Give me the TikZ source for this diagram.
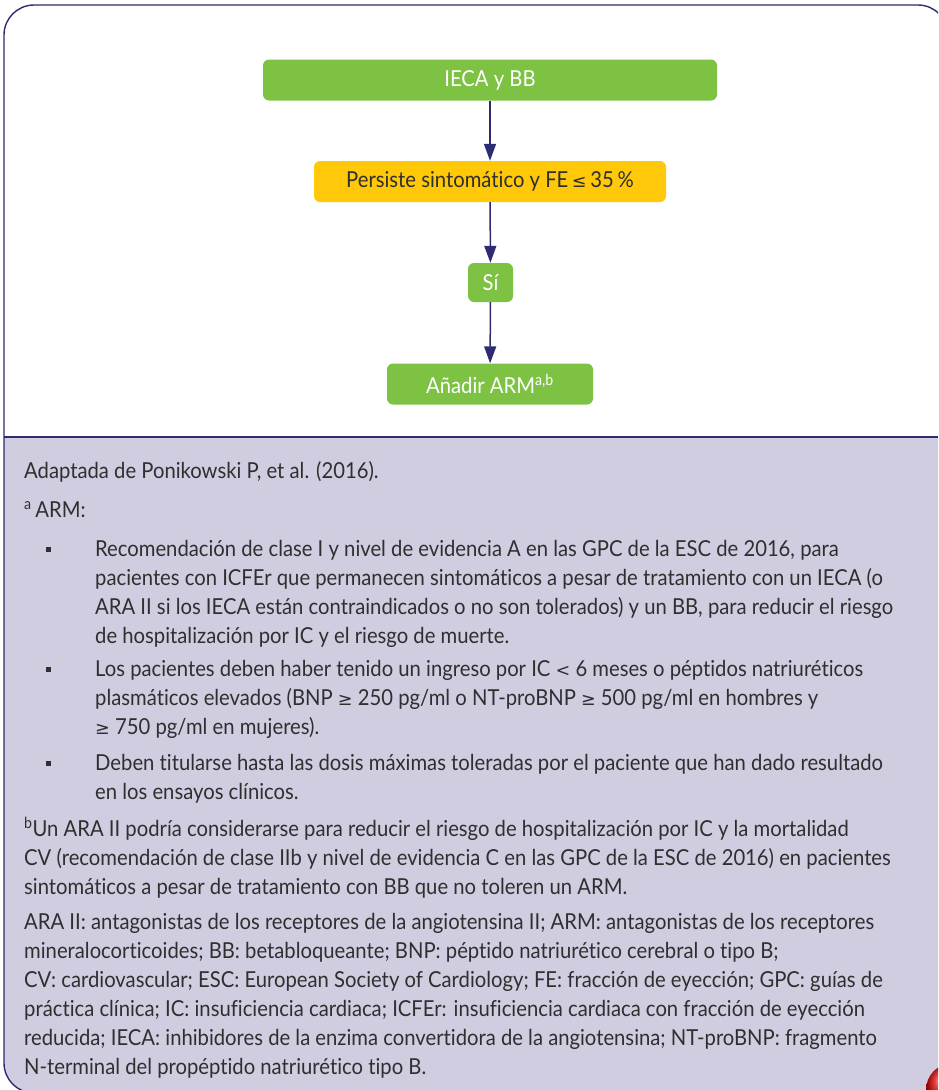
\documentclass[tikz,border=0pt]{standalone}
\usepackage{fontspec}
\setmainfont{Lato}[FakeStretch=0.92, Ligatures={NoCommon}]
\newfontfamily\symf{DejaVu Sans}[Scale=0.8]
\usetikzlibrary{arrows.meta}
\definecolor{navy}{HTML}{2E2C70}
\definecolor{leaf}{HTML}{7DC243}
\definecolor{sun}{HTML}{FFC90A}
\definecolor{lav}{HTML}{D0CDE1}
\definecolor{ink}{HTML}{2F2F2F}
\newcommand{\sle}{{\symf ≤}}
\newcommand{\sge}{{\symf ≥}}
\newcommand{\slt}{{\symf <}}
\begin{document}
\begin{tikzpicture}[x=1pt,y=-1pt,
  boxbase/.style={rounded corners=6pt, minimum height=41pt, inner sep=0pt,
    font=\fontsize{22}{26}\selectfont},
  gbox/.style={boxbase, fill=leaf, text=white},
  ybox/.style={boxbase, fill=sun, text=ink},
  flow/.style={navy, line width=1.5pt, -{Triangle[length=17pt,width=12pt]}},
  txt/.style={anchor=base west, inner sep=0pt, text=ink,
    font=\fontsize{22}{29}\selectfont},
  sq/.style={fill=ink, minimum size=5pt, inner sep=0pt}]
\useasboundingbox (0,0) rectangle (938,1090);
\clip (0,0) rectangle (938,1090);

% lower notes panel
\begin{scope}
  \clip[rounded corners=30pt] (4,5) rectangle (948,1093);
  \fill[lav] (0,437) rectangle (960,1100);
\end{scope}
\draw[navy, line width=1.4pt, rounded corners=30pt] (4,5) rectangle (948,1093);
\draw[navy, line width=1.2pt] (4,437) -- (938,437);

% page badge
\shade[ball color=red!85!black] (953,1090) circle (27);

% flow chart
\node[gbox, minimum width=454pt] (ieca) at (490,80) {IECA y BB};
\node[ybox, minimum width=352pt] (pers) at (490,181.5) {Persiste sintomático y FE\,\sle\,35\,\%};
\node[gbox, minimum width=45pt, minimum height=39pt] (si) at (490.5,282.5) {Sí};
\node[gbox, minimum width=206pt] (add) at (490,384) {Añadir ARM\textsuperscript{a,b}};
\draw[flow] (ieca) -- (pers);
\draw[flow] (pers) -- (si);
\draw[flow] (si) -- (add);

% notes
\node[txt] (n1) at (24,478) {Adaptada de Ponikowski P, et al. (2016).};
\node[txt] (n2) at (24,517) {\textsuperscript{a}\,ARM:};

\node[sq] (q1) at (48.5,549) {};
\node[txt] (a1) at (95,556) {Recomendación de clase I y nivel de evidencia A en las GPC de la ESC de 2016, para};
\node[txt] (a2) at (95,585) {pacientes con ICFEr que permanecen sintomáticos a pesar de tratamiento con un IECA (o};
\node[txt] (a3) at (95,614) {ARA II si los IECA están contraindicados o no son tolerados) y un BB, para reducir el riesgo};
\node[txt] (a4) at (95,643) {de hospitalización por IC y el riesgo de muerte.};

\node[sq] (q2) at (48.5,669) {};
\node[txt] (b1) at (95,676) {Los pacientes deben haber tenido un ingreso por IC \slt{} 6 meses o péptidos natriuréticos};
\node[txt] (b2) at (95,705) {plasmáticos elevados (BNP \sge{} 250 pg/ml o NT-proBNP \sge{} 500 pg/ml en hombres y};
\node[txt] (b3) at (95,734) {\sge{} 750 pg/ml en mujeres).};

\node[sq] (q3) at (48.5,763) {};
\node[txt] (c1) at (95,770) {Deben titularse hasta las dosis máximas toleradas por el paciente que han dado resultado};
\node[txt] (c2) at (95,799) {en los ensayos clínicos.};

\node[txt] (d1) at (24,836) {\textsuperscript{b}Un ARA II podría considerarse para reducir el riesgo de hospitalización por IC y la mortalidad};
\node[txt] (d2) at (24,865) {CV (recomendación de clase IIb y nivel de evidencia C en las GPC de la ESC de 2016) en pacientes};
\node[txt] (d3) at (24,894) {sintomáticos a pesar de tratamiento con BB que no toleren un ARM.};

\node[txt] (e1) at (24,929) {ARA II: antagonistas de los receptores de la angiotensina II; ARM: antagonistas de los receptores};
\node[txt] (e2) at (24,958) {mineralocorticoides; BB: betabloqueante; BNP: péptido natriurético cerebral o tipo B;};
\node[txt] (e3) at (24,987) {CV: cardiovascular; ESC: European Society of Cardiology; FE: fracción de eyección; GPC: guías de};
\node[txt] (e4) at (24,1016) {práctica clínica; IC: insuficiencia cardiaca; ICFEr: insuficiencia cardiaca con fracción de eyección};
\node[txt] (e5) at (24,1045) {reducida; IECA: inhibidores de la enzima convertidora de la angiotensina; NT-proBNP: fragmento};
\node[txt] (e6) at (24,1074) {N-terminal del propéptido natriurético tipo B.};
\end{tikzpicture}
\end{document}
